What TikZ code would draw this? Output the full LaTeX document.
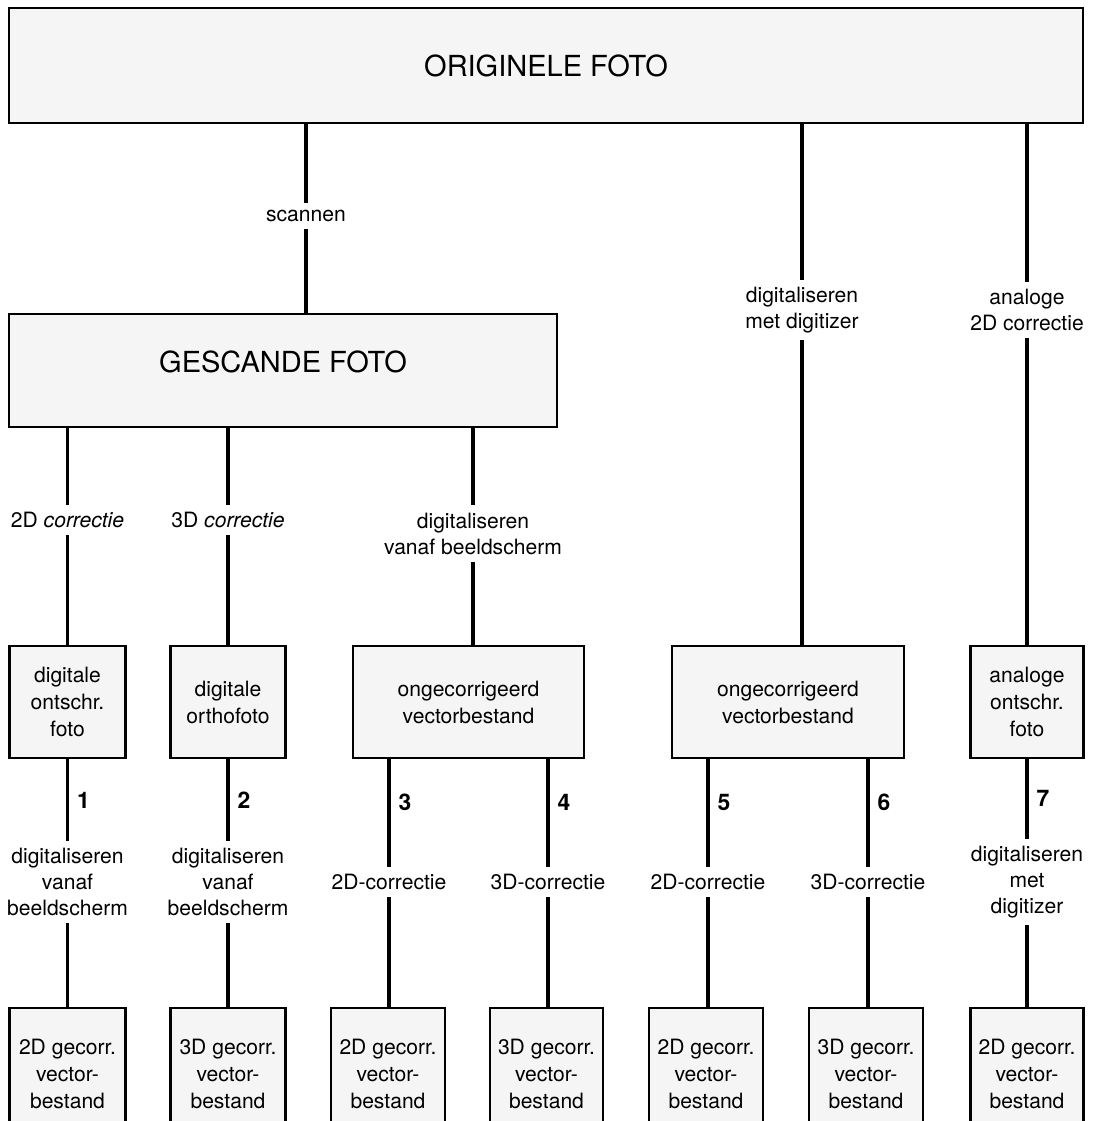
\documentclass[tikz,border=0pt]{standalone}
\usepackage{fontspec}
\setmainfont{TeX Gyre Heros}
\usetikzlibrary{arrows,calc,backgrounds}

\begin{document}
\begin{tikzpicture}[boxnode/.style={rectangle,draw=black,line width=1.2pt,fill=black!4,align=center,inner sep=0pt,font=\fontsize{12}{15.4}\selectfont},
    bignode/.style={boxnode,font=\fontsize{16.5}{20}\selectfont},
    labelnode/.style={align=center,inner xsep=2pt,inner ysep=0.14cm,font=\fontsize{12}{14.8}\selectfont},
    numnode/.style={right,inner xsep=0.16cm,font=\fontsize{13}{15}\selectfont\bfseries},
    linkline/.style={line width=1.8pt},]
    \useasboundingbox (0,0) rectangle (21.84cm,-22.42cm);
    % bovenste lagen
    \node[bignode,minimum width=21.48cm,minimum height=2.30cm] at (10.92cm,-1.31cm) (origineleFoto) {ORIGINELE FOTO};
    \node[bignode,minimum width=10.96cm,minimum height=2.26cm] at (5.66cm,-7.41cm) (gescandeFoto) {\raisebox{0.17cm}[0.42cm][0pt]{GESCANDE FOTO}};
    \node[boxnode,minimum width=2.32cm,minimum height=2.24cm] at (1.35cm,-14.04cm) (digitaleOntschr) {digitale\\ontschr.\\foto};
    \node[boxnode,minimum width=2.30cm,minimum height=2.24cm] at (4.56cm,-14.04cm) (digitaleOrtho) {digitale\\orthofoto};
    \node[boxnode,minimum width=4.62cm,minimum height=2.24cm] at (9.37cm,-14.04cm) (ongecorrA) {ongecorrigeerd\\vectorbestand};
    \node[boxnode,minimum width=4.64cm,minimum height=2.24cm] at (15.76cm,-14.04cm) (ongecorrB) {ongecorrigeerd\\vectorbestand};
    \node[boxnode,minimum width=2.26cm,minimum height=2.24cm] at (20.54cm,-14.04cm) (analogeOntschr) {analoge\\ontschr.\\foto};
    % eindproducten
    \node[boxnode,minimum width=2.32cm,minimum height=2.64cm] at (1.35cm,-21.48cm) (vectorA) {2D gecorr.\\vector-\\bestand};
    \node[boxnode,minimum width=2.30cm,minimum height=2.64cm] at (4.56cm,-21.48cm) (vectorB) {3D gecorr.\\vector-\\bestand};
    \node[boxnode,minimum width=2.28cm,minimum height=2.64cm] at (7.76cm,-21.48cm) (vectorC) {2D gecorr.\\vector-\\bestand};
    \node[boxnode,minimum width=2.26cm,minimum height=2.64cm] at (10.93cm,-21.48cm) (vectorD) {3D gecorr.\\vector-\\bestand};
    \node[boxnode,minimum width=2.28cm,minimum height=2.64cm] at (14.12cm,-21.48cm) (vectorE) {2D gecorr.\\vector-\\bestand};
    \node[boxnode,minimum width=2.28cm,minimum height=2.64cm] at (17.32cm,-21.48cm) (vectorF) {3D gecorr.\\vector-\\bestand};
    \node[boxnode,minimum width=2.26cm,minimum height=2.64cm] at (20.54cm,-21.48cm) (vectorG) {2D gecorr.\\vector-\\bestand};
    % bewerkingen
    \node[labelnode] at (6.12cm,-4.32cm) (scannenLabel) {scannen};
    \node[labelnode] at (16.04cm,-6.20cm) (digitizerLabel) {digitaliseren\\met digitizer};
    \node[labelnode] at (20.54cm,-6.20cm) (analoogLabel) {analoge\\2D correctie};
    \node[labelnode] at (1.35cm,-10.40cm) (corrTweeLabel) {2D \textit{correctie}};
    \node[labelnode] at (4.56cm,-10.40cm) (corrDrieLabel) {3D \textit{correctie}};
    \node[labelnode] at (9.46cm,-10.67cm) (beeldschermLabel) {digitaliseren\\vanaf beeldscherm};
    \node[labelnode] at (1.35cm,-17.64cm) (labelA) {digitaliseren\\vanaf\\beeldscherm};
    \node[labelnode] at (4.56cm,-17.64cm) (labelB) {digitaliseren\\vanaf\\beeldscherm};
    \node[labelnode] at (7.78cm,-17.64cm) (labelC) {2D-correctie};
    \node[labelnode] at (10.96cm,-17.64cm) (labelD) {3D-correctie};
    \node[labelnode] at (14.16cm,-17.64cm) (labelE) {2D-correctie};
    \node[labelnode] at (17.36cm,-17.64cm) (labelF) {3D-correctie};
    \node[labelnode] at (20.54cm,-17.64cm) (labelG) {digitaliseren\\met\\digitizer};
    % verbindingen
    \draw[linkline] (origineleFoto.south -| scannenLabel) -- (scannenLabel) -- (gescandeFoto.north -| scannenLabel);
    \draw[linkline] (origineleFoto.south -| digitizerLabel) -- (digitizerLabel) -- (ongecorrB.north -| digitizerLabel);
    \draw[linkline] (origineleFoto.south -| analoogLabel) -- (analoogLabel) -- (analogeOntschr);
    \draw[linkline] (gescandeFoto.south -| corrTweeLabel) -- (corrTweeLabel) -- (digitaleOntschr);
    \draw[linkline] (gescandeFoto.south -| corrDrieLabel) -- (corrDrieLabel) -- (digitaleOrtho);
    \draw[linkline] (gescandeFoto.south -| beeldschermLabel) -- (beeldschermLabel) -- (ongecorrA.north -| beeldschermLabel);
    \draw[linkline] (digitaleOntschr) -- node[numnode] {1} (labelA) -- (vectorA);
    \draw[linkline] (digitaleOrtho) -- node[numnode] {2} (labelB) -- (vectorB);
    \draw[linkline] (ongecorrA.south -| labelC) -- node[numnode,pos=0.4] {3} (labelC) -- (vectorC.north -| labelC);
    \draw[linkline] (ongecorrA.south -| labelD) -- node[numnode,pos=0.4] {4} (labelD) -- (vectorD.north -| labelD);
    \draw[linkline] (ongecorrB.south -| labelE) -- node[numnode,pos=0.4] {5} (labelE) -- (vectorE.north -| labelE);
    \draw[linkline] (ongecorrB.south -| labelF) -- node[numnode,pos=0.4] {6} (labelF) -- (vectorF.north -| labelF);
    \draw[linkline] (analogeOntschr) -- node[numnode] {7} (labelG) -- (vectorG);
\end{tikzpicture}
\end{document}
